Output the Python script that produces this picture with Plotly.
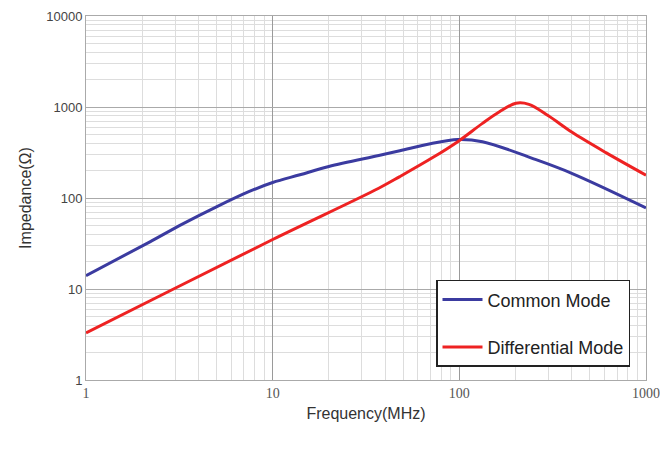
import plotly.graph_objects as go

freq_cm = [1, 2.2, 3.3, 5, 7.5, 10, 14, 20, 37, 48, 70, 98, 133, 246, 400, 1000]
z_cm = [14, 33, 52, 80, 118, 148, 180, 222, 293, 330, 395, 440, 416, 273, 187, 78]

freq_dm = [1, 3, 10, 37, 48, 72, 98, 133, 164, 201, 236, 300, 400, 610, 1000]
z_dm = [3.3, 10.2, 35, 128, 172, 278, 416, 661, 886, 1100, 1070, 800, 530, 315, 178]

x_ticks = [1, 10, 100, 1000]
x_labels = ["1", "10", "100", "1000"]
y_ticks = [1, 10, 100, 1000, 10000]
y_labels = ["1", "10", "100", "1000", "10000"]
minor_steps = [2, 3, 4, 5, 6, 7, 8, 9]

x_minor = [m * d for d in x_ticks[:-1] for m in minor_steps]
y_minor = [m * d for d in y_ticks[:-1] for m in minor_steps]

fig = go.Figure()
fig.add_trace(go.Scatter(x=freq_cm, y=z_cm, mode="lines", name="Common Mode",
                         line=dict(color="#3b3ba0", width=3, shape="spline", smoothing=1.0),
                         legendgroup="a"))
fig.add_trace(go.Scatter(x=freq_dm, y=z_dm, mode="lines", name="Differential Mode",
                         line=dict(color="#ee2222", width=3, shape="spline", smoothing=1.0),
                         legendgroup="b"))

fig.update_layout(
    width=668, height=466,
    margin=dict(l=78, r=30, t=8, b=94),
    paper_bgcolor="white", plot_bgcolor="white",
    showlegend=True,
    legend=dict(x=0.625, y=0.275, xanchor="left", yanchor="top",
                bgcolor="white", bordercolor="#222", borderwidth=1.5,
                font=dict(family="Liberation Sans Narrow, Liberation Sans, Arial", size=18, color="#222"),
                traceorder="grouped", tracegroupgap=21, itemwidth=40),
    font=dict(family="Liberation Sans, Arial", color="#333"),
)
fig.update_xaxes(type="log", range=[0, 3], tickvals=x_ticks, ticktext=x_labels,
                 tickfont=dict(family="Liberation Serif, Times New Roman", size=14, color="#555"),
                 showgrid=True, gridcolor="#9a9a9a", gridwidth=1,
                 minor=dict(tickmode="array", tickvals=x_minor, showgrid=True, gridcolor="#dddddd", ticks=""),
                 showline=True, linecolor="#aaaaaa", mirror=True, ticks="", ticklen=0,
                 title=dict(text="Frequency(MHz)", font=dict(size=16, color="#333"), standoff=8),
                 zeroline=False, automargin=False)
fig.update_yaxes(type="log", range=[0, 4], tickvals=y_ticks, ticktext=y_labels,
                 tickfont=dict(family="Liberation Sans, Arial", size=13, color="#444"),
                 showgrid=True, gridcolor="#aaaaaa", gridwidth=1,
                 minor=dict(tickmode="array", tickvals=y_minor, showgrid=True, gridcolor="#dddddd", ticks=""),
                 showline=True, linecolor="#aaaaaa", mirror=True, ticks="", ticklen=0,
                 title=dict(text="Impedance(Ω)", font=dict(size=16, color="#333"), standoff=10),
                 zeroline=False, automargin=False)

fig.write_html("out.html")
